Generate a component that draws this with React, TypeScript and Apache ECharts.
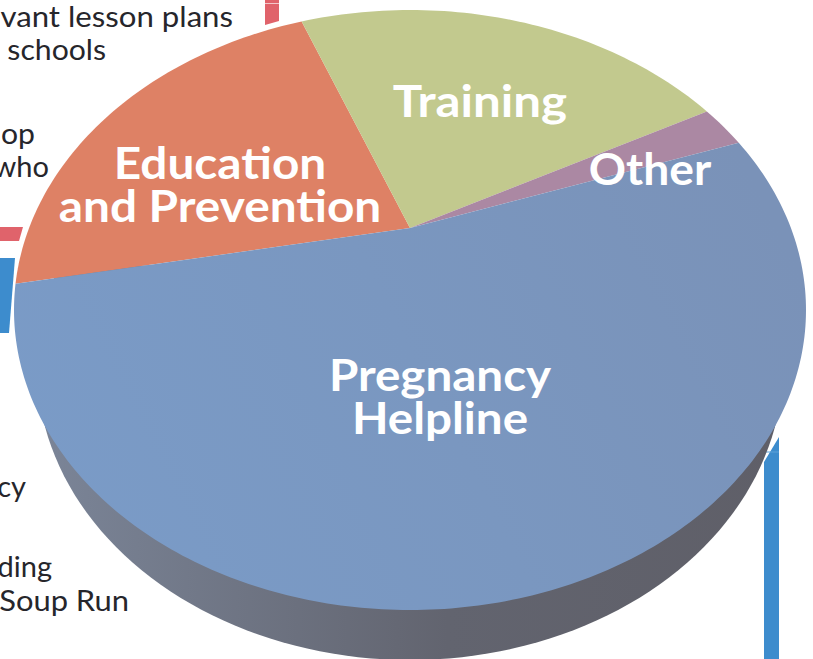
import React, { useEffect, useRef } from "react";
import * as echarts from "echarts";

const categories = ["Education\nand Prevention", "Training", "Other", "Pregnancy\nHelpline"];
const sliceValues = [19.2, 17.9, 2.1, 60.8];
const sliceColors: any[] = [
  "#de8165",
  "#c2c98e",
  "#ab88a3",
  new echarts.graphic.LinearGradient(0, 0.6, 1, 0.3, [
    { offset: 0, color: "#7a9bc7" },
    { offset: 0.5, color: "#7a97c0" },
    { offset: 1, color: "#7a92b8" },
  ]),
];
const labelAnchors = [
  [220, 184],
  [480, 100],
  [650, 168],
  [440, 396],
];
const labelStretch = [1.085, 1.12, 1.05, 1.08];
const sideTexts = [
  { text: "vant lesson plans", x: 233, y: 15, stretch: 1.075 },
  { text: "schools", x: 106, y: 49, stretch: 1.04 },
  { text: "op", x: 35, y: 133, stretch: 1.04 },
  { text: "who", x: 49, y: 165, stretch: 1.0 },
  { text: "cy", x: 26, y: 485, stretch: 1.0 },
  { text: "ding", x: 52, y: 565, stretch: 1.0 },
  { text: "Soup Run", x: 129, y: 599, stretch: 1.065 },
];

const CX = 410, CY = 310, RX = 396, RY = 300;
const APEX = [410, 228];
const START_DEG = 175;
const FONT = "Lato, 'Open Sans', sans-serif";

function App() {
  const ref = useRef<HTMLDivElement>(null);
  useEffect(() => {
    document.body.style.margin = "0";
    const chart = echarts.init(ref.current!, null, { renderer: "svg" });
    const total = sliceValues.reduce((a, b) => a + b, 0);
    let acc = 0;
    const sliceData = sliceValues.map((v) => {
      const row = [v, acc];
      acc += v;
      return row;
    });
    const renderSlice = (params: any, api: any) => {
      const value = api.value(0);
      const before = api.value(1);
      const a0 = START_DEG - (before / total) * 360;
      const a1 = a0 - (value / total) * 360;
      const steps = Math.max(4, Math.ceil(a0 - a1));
      const pts: number[][] = [APEX];
      for (let i = 0; i <= steps; i++) {
        const t = ((a0 + ((a1 - a0) * i) / steps) * Math.PI) / 180;
        pts.push([CX + RX * Math.cos(t), CY - RY * Math.sin(t)]);
      }
      return {
        type: "polygon",
        shape: { points: pts },
        style: { fill: sliceColors[params.dataIndex], stroke: null },
      };
    };
    const renderWall = () => {
      const pts: number[][] = [];
      for (let d = 160; d <= 380; d += 2) {
        const t = (d * Math.PI) / 180;
        pts.push([410 + 373 * Math.cos(t), 366 - 294 * Math.sin(t)]);
      }
      return {
        type: "polygon",
        shape: { points: pts },
        style: {
          fill: new echarts.graphic.LinearGradient(0, 0, 1, 0, [
            { offset: 0, color: "#7b8598" },
            { offset: 0.55, color: "#62646f" },
            { offset: 1, color: "#5f5f68" },
          ]),
        },
      };
    };
    chart.setOption({
      animation: false,
      backgroundColor: "#ffffff",
      graphic: [
        { type: "polygon", z: 0, shape: { points: [[764, 462], [779, 437], [779, 659], [764, 659]] }, style: { fill: "#3d8ccd" } },
        { type: "rect", z: 1, shape: { x: 764, y: 451.5, width: 15, height: 1 }, style: { fill: "#5fa2d8" } },
        { type: "polygon", z: 0, shape: { points: [[0, 258], [15, 258], [9, 333], [0, 333]] }, style: { fill: "#3d8ccd" } },
        { type: "polygon", z: 0, shape: { points: [[0, 227], [23, 227], [19, 241], [0, 241]] }, style: { fill: "#e0636b" } },
        { type: "polygon", z: 0, shape: { points: [[265, 0], [279, 0], [279, 21], [265, 25]] }, style: { fill: "#e0636b" } },
        { type: "rect", z: 1, shape: { x: 265, y: 3, width: 14, height: 1 }, style: { fill: "#f4c6c9" } },
        ...sideTexts.map((t) => ({
          type: "text",
          z: 1,
          x: t.x,
          y: t.y,
          scaleX: t.stretch,
          style: {
            text: t.text,
            fontFamily: FONT,
            fontSize: 29,
            fill: "#26262b",
            align: "right",
            verticalAlign: "middle",
          },
        })),
        ...categories.map((c, i) => ({
          type: "text",
          z: 100,
          x: labelAnchors[i][0],
          y: labelAnchors[i][1],
          scaleX: labelStretch[i],
          style: {
            text: c,
            fontFamily: FONT,
            fontWeight: "bold",
            fontSize: 44,
            lineHeight: 43,
            fill: "#ffffff",
            align: "center",
            verticalAlign: "middle",
          },
        })),
      ],
      series: [
        { type: "custom", coordinateSystem: "none", z: 3, data: [[0]], renderItem: renderWall, silent: true },
        { type: "custom", coordinateSystem: "none", z: 4, data: sliceData, renderItem: renderSlice, silent: true },
      ],
    });
    return () => chart.dispose();
  }, []);
  return <div ref={ref} style={{ width: 813, height: 659 }} />;
}

export default App;
